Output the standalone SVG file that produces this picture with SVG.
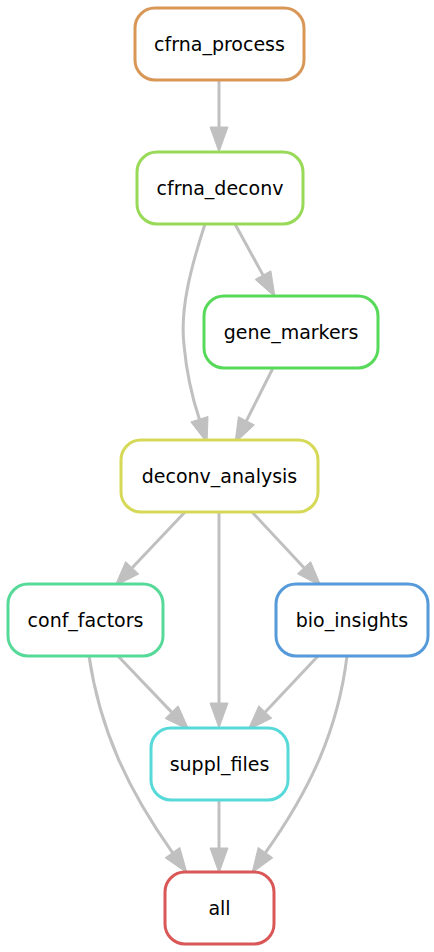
<svg xmlns="http://www.w3.org/2000/svg" width="434" height="952" viewBox="0 0 434 952">
<style>
.node rect{fill:#ffffff;stroke-width:3}
.node text{font-family:"DejaVu Sans",sans-serif;font-size:19px;fill:#000000;text-anchor:middle}
.edge path{fill:none;stroke:#c0c0c0;stroke-width:3}
.edge polygon{fill:#c0c0c0;stroke:#c0c0c0;stroke-width:1}
</style>
<rect width="434" height="952" fill="#ffffff"/>
<g id="connectors" class="edge">
<path d="M219,80 L219,127"/><polygon points="210,127 219,152 228,127"/>
<path d="M235,224 L263,275.1"/><polygon points="255.1,279.4 275,297 270.9,270.8"/>
<path d="M205,224 C190,270 180,310 184,345 C187,378 193,400 199.4,419.2"/><polygon points="190.8,421.9 207,443 208,416.5"/>
<path d="M273,368 L246.4,420.8"/><polygon points="238.4,416.7 235,443 254.4,424.9"/>
<path d="M185,512 L132.2,567.8"/><polygon points="125.7,561.6 115,586 138.7,574"/>
<path d="M219,512 L219,703"/><polygon points="210,703 219,728 228,703"/>
<path d="M252,512 L304,567.7"/><polygon points="297.4,573.8 321,586 310.6,561.6"/>
<path d="M118,656 L171.6,712.1"/><polygon points="165.1,718.4 189,730 178.1,705.8"/>
<path d="M318,656 L265.3,712"/><polygon points="258.8,705.8 248,730 271.8,718.2"/>
<path d="M89,656 C100,730 128,790 172.5,852.6"/><polygon points="165.2,857.8 187,873 179.8,847.4"/>
<path d="M347,656 C338,730 310,790 265.5,852.6"/><polygon points="272.8,857.8 252,873 258.2,847.4"/>
<path d="M219,800 L219,848"/><polygon points="210,848 219,873 228,848"/>
</g>
<g id="cfrna_process" class="node"><rect x="135" y="8" width="169" height="72" rx="20" stroke="#d99757"/><text x="219.5" y="50.5">cfrna_process</text></g>
<g id="cfrna_deconv" class="node"><rect x="137" y="152" width="166" height="72" rx="20" stroke="#98d957"/><text x="220" y="194.5">cfrna_deconv</text></g>
<g id="gene_markers" class="node"><rect x="204" y="296" width="174" height="72" rx="20" stroke="#57d959"/><text x="291" y="338.5">gene_markers</text></g>
<g id="deconv_analysis" class="node"><rect x="121" y="440" width="197" height="72" rx="20" stroke="#d6d957"/><text x="219.5" y="482.5">deconv_analysis</text></g>
<g id="conf_factors" class="node"><rect x="8" y="584" width="155" height="72" rx="20" stroke="#57d99a"/><text x="85.5" y="626.5">conf_factors</text></g>
<g id="bio_insights" class="node"><rect x="276" y="584" width="152" height="72" rx="20" stroke="#579ad9"/><text x="352" y="626.5">bio_insights</text></g>
<g id="suppl_files" class="node"><rect x="151" y="728" width="137" height="72" rx="20" stroke="#57d9d9"/><text x="219.5" y="770.5">suppl_files</text></g>
<g id="all" class="node"><rect x="165" y="872" width="109" height="72" rx="20" stroke="#d95757"/><text x="219.5" y="914.5">all</text></g>
</svg>
